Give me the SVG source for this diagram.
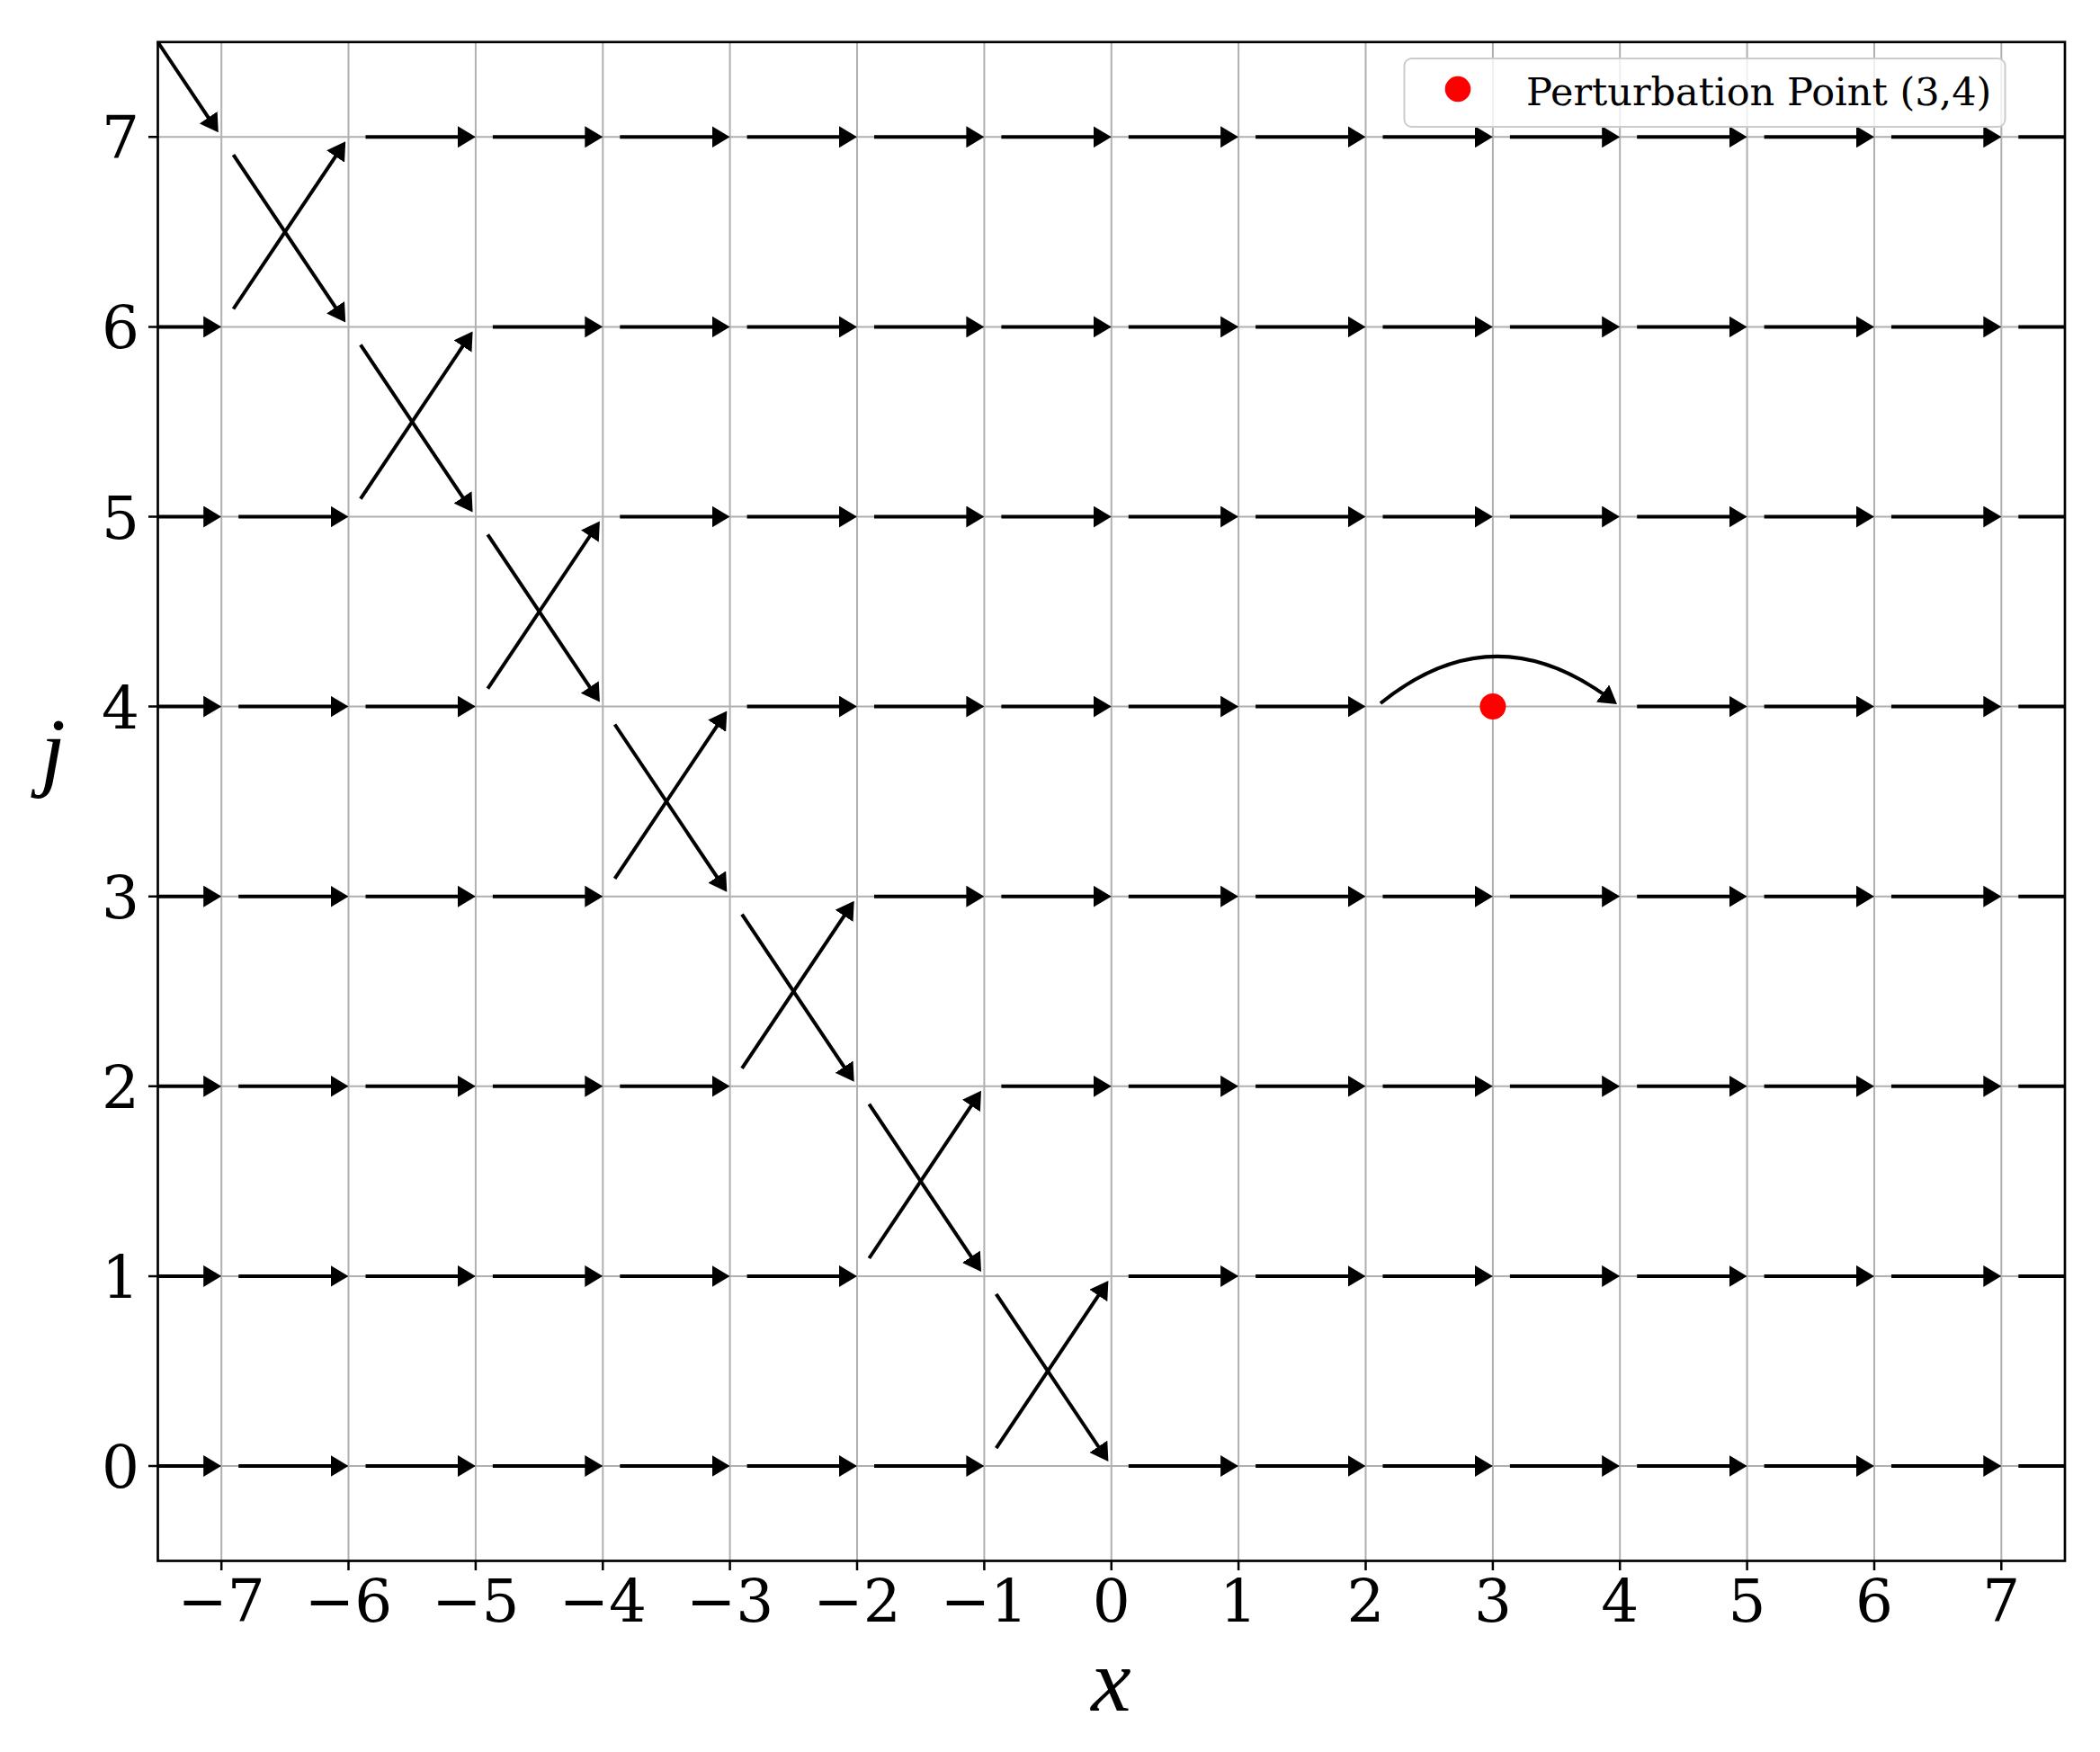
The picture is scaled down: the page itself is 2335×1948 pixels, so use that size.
<svg xmlns="http://www.w3.org/2000/svg" width="2335" height="1948" viewBox="0 0 2335 1948">
<style>
.grid{stroke:#b0b0b0;stroke-width:2;fill:none}
.a{stroke:#000;stroke-width:4;fill:none;marker-end:url(#ah)}
.t{stroke:#000;stroke-width:4;fill:none}
.tick{stroke:#000;stroke-width:2.5}
.lbl{font-family:"DejaVu Serif",serif;font-size:66px;fill:#000}
.xl{text-anchor:middle}
.yl{text-anchor:end}
.ax{font-family:"Liberation Serif",serif;font-style:italic;font-size:100px;fill:#000}
</style>
<defs>
<marker id="ah" viewBox="0 0 20 24" refX="11" refY="12" markerWidth="20" markerHeight="24" markerUnits="userSpaceOnUse" orient="auto"><path d="M0,0L20,12L0,24z" fill="#000"/></marker>
</defs>
<rect width="2335" height="1948" fill="#fff"/>
<g id="grid" class="grid">
<path d="M246.2 46.75V1735.5M387.5 46.75V1735.5M528.9 46.75V1735.5M670.3 46.75V1735.5M811.6 46.75V1735.5M953 46.75V1735.5M1094.4 46.75V1735.5M1235.75 46.75V1735.5M1377.1 46.75V1735.5M1518.5 46.75V1735.5M1659.9 46.75V1735.5M1801.2 46.75V1735.5M1942.6 46.75V1735.5M2084 46.75V1735.5M2225.3 46.75V1735.5"/>
<path d="M175.5 152.3H2296M175.5 363.4H2296M175.5 574.5H2296M175.5 785.6H2296M175.5 996.7H2296M175.5 1207.8H2296M175.5 1418.9H2296M175.5 1630H2296"/>
</g>
<g id="connectors">
<!-- row 7 -->
<path class="a" d="M175.5 46.75L237.8 139.8"/>
<path class="a" d="M406.5 152.3H519.9"/><path class="a" d="M547.9 152.3H661.3"/><path class="a" d="M689.3 152.3H802.6"/><path class="a" d="M830.6 152.3H944"/><path class="a" d="M972 152.3H1085.4"/><path class="a" d="M1113.4 152.3H1226.8"/><path class="a" d="M1254.8 152.3H1368.1"/><path class="a" d="M1396.1 152.3H1509.5"/><path class="a" d="M1537.5 152.3H1650.9"/><path class="a" d="M1678.9 152.3H1792.2"/><path class="a" d="M1820.2 152.3H1933.6"/><path class="a" d="M1961.6 152.3H2075"/><path class="a" d="M2103 152.3H2216.3"/><path class="t" d="M2244.3 152.3H2296"/>
<!-- row 6 -->
<path class="a" d="M175.5 363.4H237.2"/>
<path class="a" d="M547.9 363.4H661.3"/><path class="a" d="M689.3 363.4H802.6"/><path class="a" d="M830.6 363.4H944"/><path class="a" d="M972 363.4H1085.4"/><path class="a" d="M1113.4 363.4H1226.8"/><path class="a" d="M1254.8 363.4H1368.1"/><path class="a" d="M1396.1 363.4H1509.5"/><path class="a" d="M1537.5 363.4H1650.9"/><path class="a" d="M1678.9 363.4H1792.2"/><path class="a" d="M1820.2 363.4H1933.6"/><path class="a" d="M1961.6 363.4H2075"/><path class="a" d="M2103 363.4H2216.3"/><path class="t" d="M2244.3 363.4H2296"/>
<!-- row 5 -->
<path class="a" d="M175.5 574.5H237.2"/><path class="a" d="M265.2 574.5H378.5"/>
<path class="a" d="M689.3 574.5H802.6"/><path class="a" d="M830.6 574.5H944"/><path class="a" d="M972 574.5H1085.4"/><path class="a" d="M1113.4 574.5H1226.8"/><path class="a" d="M1254.8 574.5H1368.1"/><path class="a" d="M1396.1 574.5H1509.5"/><path class="a" d="M1537.5 574.5H1650.9"/><path class="a" d="M1678.9 574.5H1792.2"/><path class="a" d="M1820.2 574.5H1933.6"/><path class="a" d="M1961.6 574.5H2075"/><path class="a" d="M2103 574.5H2216.3"/><path class="t" d="M2244.3 574.5H2296"/>
<!-- row 4 -->
<path class="a" d="M175.5 785.6H237.2"/><path class="a" d="M265.2 785.6H378.5"/><path class="a" d="M406.5 785.6H519.9"/>
<path class="a" d="M830.6 785.6H944"/><path class="a" d="M972 785.6H1085.4"/><path class="a" d="M1113.4 785.6H1226.8"/><path class="a" d="M1254.8 785.6H1368.1"/><path class="a" d="M1396.1 785.6H1509.5"/>
<path class="a" d="M1535 782Q1661 680 1790.8 777.6"/>
<path class="a" d="M1820.2 785.6H1933.6"/><path class="a" d="M1961.6 785.6H2075"/><path class="a" d="M2103 785.6H2216.3"/><path class="t" d="M2244.3 785.6H2296"/>
<!-- row 3 -->
<path class="a" d="M175.5 996.7H237.2"/><path class="a" d="M265.2 996.7H378.5"/><path class="a" d="M406.5 996.7H519.9"/><path class="a" d="M547.9 996.7H661.3"/>
<path class="a" d="M972 996.7H1085.4"/><path class="a" d="M1113.4 996.7H1226.8"/><path class="a" d="M1254.8 996.7H1368.1"/><path class="a" d="M1396.1 996.7H1509.5"/><path class="a" d="M1537.5 996.7H1650.9"/><path class="a" d="M1678.9 996.7H1792.2"/><path class="a" d="M1820.2 996.7H1933.6"/><path class="a" d="M1961.6 996.7H2075"/><path class="a" d="M2103 996.7H2216.3"/><path class="t" d="M2244.3 996.7H2296"/>
<!-- row 2 -->
<path class="a" d="M175.5 1207.8H237.2"/><path class="a" d="M265.2 1207.8H378.5"/><path class="a" d="M406.5 1207.8H519.9"/><path class="a" d="M547.9 1207.8H661.3"/><path class="a" d="M689.3 1207.8H802.6"/>
<path class="a" d="M1113.4 1207.8H1226.8"/><path class="a" d="M1254.8 1207.8H1368.1"/><path class="a" d="M1396.1 1207.8H1509.5"/><path class="a" d="M1537.5 1207.8H1650.9"/><path class="a" d="M1678.9 1207.8H1792.2"/><path class="a" d="M1820.2 1207.8H1933.6"/><path class="a" d="M1961.6 1207.8H2075"/><path class="a" d="M2103 1207.8H2216.3"/><path class="t" d="M2244.3 1207.8H2296"/>
<!-- row 1 -->
<path class="a" d="M175.5 1418.9H237.2"/><path class="a" d="M265.2 1418.9H378.5"/><path class="a" d="M406.5 1418.9H519.9"/><path class="a" d="M547.9 1418.9H661.3"/><path class="a" d="M689.3 1418.9H802.6"/><path class="a" d="M830.6 1418.9H944"/>
<path class="a" d="M1254.8 1418.9H1368.1"/><path class="a" d="M1396.1 1418.9H1509.5"/><path class="a" d="M1537.5 1418.9H1650.9"/><path class="a" d="M1678.9 1418.9H1792.2"/><path class="a" d="M1820.2 1418.9H1933.6"/><path class="a" d="M1961.6 1418.9H2075"/><path class="a" d="M2103 1418.9H2216.3"/><path class="t" d="M2244.3 1418.9H2296"/>
<!-- row 0 -->
<path class="a" d="M175.5 1630H237.2"/><path class="a" d="M265.2 1630H378.5"/><path class="a" d="M406.5 1630H519.9"/><path class="a" d="M547.9 1630H661.3"/><path class="a" d="M689.3 1630H802.6"/><path class="a" d="M830.6 1630H944"/><path class="a" d="M972 1630H1085.4"/>
<path class="a" d="M1254.8 1630H1368.1"/><path class="a" d="M1396.1 1630H1509.5"/><path class="a" d="M1537.5 1630H1650.9"/><path class="a" d="M1678.9 1630H1792.2"/><path class="a" d="M1820.2 1630H1933.6"/><path class="a" d="M1961.6 1630H2075"/><path class="a" d="M2103 1630H2216.3"/><path class="t" d="M2244.3 1630H2296"/>
<!-- crossings -->
<path class="a" d="M259.5 343.5L379.2 164.8"/><path class="a" d="M259.5 172.2L379.2 350.9"/>
<path class="a" d="M400.9 554.6L520.6 375.9"/><path class="a" d="M400.9 383.3L520.6 562"/>
<path class="a" d="M542.3 765.7L661.9 587"/><path class="a" d="M542.3 594.4L661.9 773.1"/>
<path class="a" d="M683.6 976.8L803.3 798.1"/><path class="a" d="M683.6 805.5L803.3 984.2"/>
<path class="a" d="M825 1187.9L944.7 1009.2"/><path class="a" d="M825 1016.6L944.7 1195.3"/>
<path class="a" d="M966.4 1399L1086 1220.3"/><path class="a" d="M966.4 1227.7L1086 1406.4"/>
<path class="a" d="M1107.7 1610.1L1227.4 1431.4"/><path class="a" d="M1107.7 1438.8L1227.4 1617.5"/>
</g>
<g id="perturbation-point"><circle cx="1659.9" cy="785.6" r="14.5" fill="#ff0000"/></g>
<g id="axes">
<rect x="175.5" y="46.75" width="2120.5" height="1688.75" fill="none" stroke="#000" stroke-width="2.7"/>
<path class="tick" d="M246.2 1735.5V1746M387.5 1735.5V1746M528.9 1735.5V1746M670.3 1735.5V1746M811.6 1735.5V1746M953 1735.5V1746M1094.4 1735.5V1746M1235.75 1735.5V1746M1377.1 1735.5V1746M1518.5 1735.5V1746M1659.9 1735.5V1746M1801.2 1735.5V1746M1942.6 1735.5V1746M2084 1735.5V1746M2225.3 1735.5V1746"/>
<path class="tick" d="M165 152.3H175.5M165 363.4H175.5M165 574.5H175.5M165 785.6H175.5M165 996.7H175.5M165 1207.8H175.5M165 1418.9H175.5M165 1630H175.5"/>
<g class="lbl xl">
<text x="246.2" y="1802.5">−7</text><text x="387.5" y="1802.5">−6</text><text x="528.9" y="1802.5">−5</text><text x="670.3" y="1802.5">−4</text><text x="811.6" y="1802.5">−3</text><text x="953" y="1802.5">−2</text><text x="1094.4" y="1802.5">−1</text><text x="1235.75" y="1802.5">0</text><text x="1377.1" y="1802.5">1</text><text x="1518.5" y="1802.5">2</text><text x="1659.9" y="1802.5">3</text><text x="1801.2" y="1802.5">4</text><text x="1942.6" y="1802.5">5</text><text x="2084" y="1802.5">6</text><text x="2225.3" y="1802.5">7</text>
</g>
<g class="lbl yl">
<text x="155" y="176.3">7</text><text x="155" y="387.4">6</text><text x="155" y="598.5">5</text><text x="155" y="809.6">4</text><text x="155" y="1020.7">3</text><text x="155" y="1231.8">2</text><text x="155" y="1442.9">1</text><text x="155" y="1654">0</text>
</g>
<text class="ax" x="1235.5" y="1901.7" text-anchor="middle">x</text>
<text class="ax" x="59" y="867" text-anchor="middle">j</text>
</g>
<g id="legend">
<rect x="1561.5" y="65" width="668" height="76" rx="8" fill="#fff" fill-opacity="0.8" stroke="#cccccc" stroke-width="2"/>
<circle cx="1621" cy="99" r="14.3" fill="#ff0000"/>
<text x="1697" y="116.7" font-family="'DejaVu Serif',serif" font-size="43">Perturbation Point (3,4)</text>
</g>
</svg>
